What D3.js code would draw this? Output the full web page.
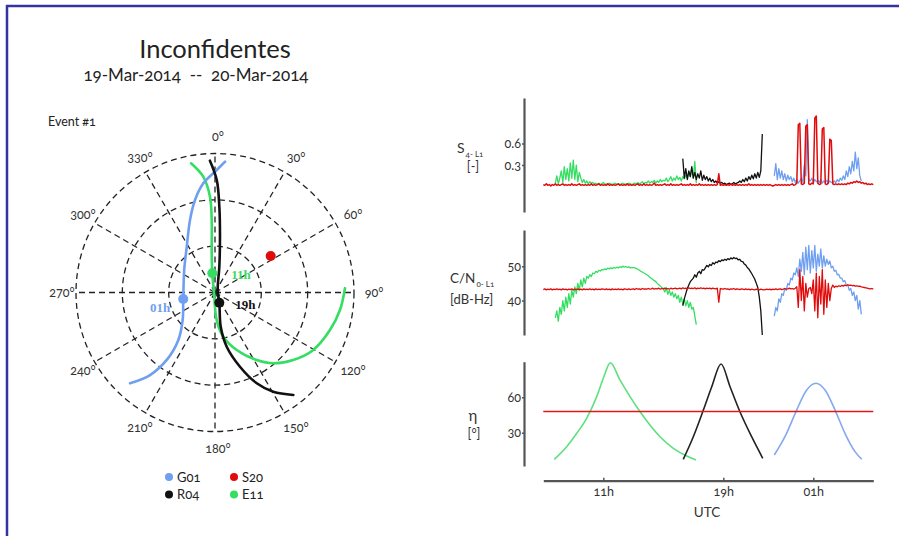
<!DOCTYPE html>
<html><head><meta charset="utf-8">
<script src="https://cdn.jsdelivr.net/npm/d3@7/dist/d3.min.js"></script>
<style>
html,body{margin:0;padding:0;background:#fff;}
svg{display:block;font-family:Lato,"Open Sans",sans-serif;font-variant-numeric:oldstyle-nums;font-feature-settings:"onum" 1;}
</style></head><body>
<svg id="c" width="899" height="536"></svg>
<script>
// ---------------- DATA ----------------
const titleText = "Inconfidentes";
const subtitleText = "19-Mar-2014  --  20-Mar-2014";
const eventText = "Event #1";

// polar plot
const spokeAngles = [0,30,60,90,120,150,180,210,240,270,300,330];
const ringElevations = [0,30,60];
// tracks: [azimuth deg, elevation deg]
const trackG01 = [[4.4,5.05],[0.8,10.7],[353.9,18.9],[347.8,28.7],[341,40.3],[328.3,55.2],[306.2,65.3],[258.4,69],[229.6,62.5],[217.7,51.2],[215.6,36.3],[218.2,22],[223.1,9.5]];
const trackR04 = [[357.8,4.6],[0.9,17.2],[2.9,34.4],[5.1,53.7],[9.5,73],[47,87.6],[157.1,82.8],[170.5,67.5],[167.8,54.1],[161.4,39.3],[155.3,25.3],[149.6,15.5],[142.6,6.5]];
const trackE11 = [[349.5,4.9],[354.2,14.6],[357,27.9],[357.4,43],[355.2,64.5],[352,77.4],[231,89.2],[176.5,72.1],[169.4,60.9],[159.3,50.2],[148.3,38.6],[140.5,30.6],[130.8,23.1],[120.3,16.3],[108.1,11.7],[98,8.3],[88.1,5.8]];
const markerG01 = [258.4,69], markerR04 = [157.1,82.8], markerE11 = [352,77.4], markerS20 = [56.8,46.9];
const markerLabels = ["01h","19h","11h"];
const legendNames = ["G01","S20","R04","E11"];

// time axis (hours UTC, 7 .. 29 = 05h next day)
const timeDomain = [7,29];
const timeTicks = [11,19,25];
const timeTickLabels = ["11h","19h","01h"];
const sampleStep = 0.1;

// S4 (sampled every 0.1 h from start time)
const s4GreenStart = 7.8;
const s4Green = [0.05,0.15,0.04,0.12,0.22,0.06,0.28,0.1,0.25,0.08,0.33,0.12,0.37,0.1,0.3,0.07,0.2,
 0.12,0.06,0.1,0.05,0.08,0.04,0.07,0.05,0.06,0.04,0.05,
 0.03,0.05,0.03,0.04,0.06,0.03,0.04,0.03,0.05,0.04,0.03,0.04,0.05,0.03,0.04,0.03,0.04,0.05,0.03,0.04,0.03,0.05,0.04,0.03,0.04,
 0.05,0.04,0.06,0.04,0.05,0.07,0.04,0.06,0.05,0.08,0.05,0.07,0.06,0.09,0.05,0.08,0.06,0.1,0.07,0.09,
 0.08,0.12,0.07,0.1,0.14,0.08,0.12,0.09,0.15,0.1,0.13,0.08,0.14,0.11,0.16,
 0.12,0.2,0.14,0.25,0.12,0.35,0.05];
const s4BlackStart = 16.3;
const s4Black = [0.39,0.12,0.25,0.1,0.22,0.14,0.28,0.12,
 0.2,0.1,0.18,0.12,0.22,0.09,0.16,0.1,0.14,
 0.08,0.12,0.07,0.1,0.06,0.08,0.05,0.07,0.05,0.06,0.04,
 0.05,0.03,0.04,0.05,0.03,0.04,0.06,0.04,0.05,0.06,
 0.08,0.06,0.1,0.07,0.12,0.08,0.14,0.1,0.16,0.11,0.18,0.12,0.2,0.13,0.22,
 0.73];
const s4BlueStart = 22.4;
const s4Blue = [0.15,0.32,0.1,0.25,0.12,0.22,0.1,
 0.18,0.08,0.16,0.1,0.14,0.07,0.12,0.06,
 0.1,0.05,0.08,0.12,0.06,0.3,0.15,
 0.93,0.1,0.08,0.12,0.06,0.1,0.07,0.09,
 0.06,0.1,0.05,0.08,0.06,0.09,0.05,0.08,0.06,
 0.05,0.08,0.06,0.1,0.07,0.12,0.09,
 0.15,0.1,0.22,0.14,0.28,0.18,0.35,
 0.22,0.48,0.25,0.4,0.15,0.08];
const s4RedStart = 7.0;
const s4Red = [0.03,0.02,0.04,0.02,0.03,0.01,0.03,0.02,0.04,0.02,
 0.03,0.02,0.03,0.04,0.02,0.03,0.02,0.03,0.02,0.04,
 0.02,0.03,0.02,0.03,0.04,0.02,0.03,0.02,0.03,0.02,
 0.03,0.02,0.04,0.02,0.03,0.02,0.03,0.04,0.02,0.03,
 0.02,0.03,0.02,0.04,0.02,0.03,0.02,0.03,0.02,0.03,
 0.04,0.02,0.03,0.02,0.03,0.02,0.04,0.02,0.03,0.02,
 0.03,0.02,0.03,0.04,0.02,0.03,0.02,0.04,0.02,0.03,
 0.02,0.03,0.02,0.03,0.05,0.02,0.03,0.02,0.03,0.02,
 0.03,0.04,0.02,0.03,0.02,0.04,0.02,0.03,0.02,0.03,
 0.02,0.03,0.04,0.02,0.03,0.02,0.03,0.02,0.04,0.02,
 0.03,0.02,0.03,0.02,0.04,0.02,0.03,0.02,0.03,0.02,
 0.03,0.02,0.03,0.02,0.03,0.02,0.03,0.18,0.02,0.03,
 0.02,0.03,0.02,0.03,0.02,0.04,0.02,0.03,0.02,0.03,
 0.02,0.03,0.02,0.03,0.02,0.03,0.02,0.04,0.02,0.03,
 0.02,0.03,0.02,0.03,0.02,0.03,0.02,0.03,0.02,0.03,
 0.02,0.03,0.02,0.01,0.02,0.03,0.02,0.03,0.02,0.03,
 0.02,0.03,0.02,0.03,0.02,0.03,0.04,0.02,0.03,0.05,
 0.86,0.88,0.04,0.03,0.05,0.84,0.86,0.04,0.03,0.05,
 0.04,0.95,0.98,0.05,0.03,0.04,0.8,0.82,0.04,0.03,
 0.05,0.66,0.64,0.04,0.03,0.04,0.03,0.04,0.03,0.04,
 0.03,0.04,0.03,0.05,0.04,0.06,0.05,0.07,0.06,0.08,
 0.06,0.07,0.05,0.06,0.04,0.05,0.03,0.04,0.03,0.04,
 0.03];

// C/N0 (dB-Hz), sampled every 0.1 h
const cnGreenStart = 7.8;
const cnGreen = [35,37,34,38,36,40,37,41,38,42,39,43,
 41,44,42,45,43,46,44,46.5,45,47,
 46.5,47.5,47,48,47.8,48.5,48.2,48.8,48.6,49,
 48.9,49.2,49,49.4,49.2,49.5,49.3,49.6,49.4,49.7,
 49.5,49.8,49.6,50,49.7,49.9,49.6,49.8,49.5,49.6,
 49.6,49.5,49.3,49.1,48.8,48.5,48.3,48,47.8,47.5,
 47.2,46.8,46.5,46.1,45.8,45.5,45,44.6,44.2,43.8,
 43.5,42.5,43.8,41.8,43,41.5,42.5,41,42,40.5,
 41.5,39.5,41,39,40.5,38.5,40,38,39.5,37.5,
 38,35.5,33];
const cnBlackStart = 16.3;
const cnBlack = [38.5,40.5,42,43.5,44.5,45.5,46,
 46.5,47.5,46.8,48,48.5,47.8,49,48.8,49.5,50.2,
 49.8,50.5,50.2,51,50.6,51.2,51,51.6,51.3,51.8,
 51.6,52,51.7,52.2,51.9,52.4,52.1,52.5,52.2,52.3,
 51.8,52,51.4,51.3,50.6,50.3,49.6,49.2,48.5,47.8,
 47,46.2,45,43.8,41,37,30];
const cnBlueStart = 22.4;
const cnBlue = [35.5,38,37,40.5,39.5,42,
 41.5,43.5,43,45,44.5,46.5,46,48,47.5,49.5,
 47,52,48.5,54,47.5,55.5,49,56,48,54.5,
 49.5,56,48.5,53.5,50,55,49.5,53,50,52,
 50.5,51.5,49.5,50,48.5,48.8,47.5,47.6,46.5,46.5,
 45.5,45.8,44.5,44.5,43,43.5,41.5,42.5,40,41.5,
 37.5,40,36];
const cnRedStart = 7.0;
const cnRed = [43.2,43.4,43.1,43.3,43.2,43.4,43.1,43.3,43.2,43.4,
 43.2,43.3,43.1,43.4,43.2,43.3,43.1,43.3,43.2,43.4,
 43.1,43.3,43.2,43.4,43.2,43.3,43.1,43.4,43.2,43.3,
 43.2,43.4,43.2,43.3,43.1,43.4,43.2,43.3,43.2,43.4,
 43.3,43.2,43.4,43.2,43.3,43.1,43.4,43.2,43.3,43.2,
 43.4,43.2,43.3,43.1,43.4,43.3,43.2,43.4,43.2,43.3,
 43.4,43.2,43.5,43.3,43.4,43.2,43.5,43.3,43.4,43.3,
 43.5,43.3,43.4,43.6,43.3,43.5,43.4,43.6,43.3,43.5,
 43.4,43.6,43.4,43.5,43.3,43.6,43.4,43.5,43.6,43.4,
 43.5,43.6,43.4,43.7,43.5,43.6,43.4,43.7,43.5,43.6,
 43.5,43.7,43.4,43.6,43.5,43.7,43.5,43.6,43.4,43.6,
 43.5,43.6,43.4,43.6,43.5,43.4,43.6,39.5,43.5,43.4,
 43.3,43.5,43.3,43.4,43.2,43.4,43.3,43.5,43.2,43.4,
 43.3,43.2,43.4,43.3,43.2,43.4,43.2,43.3,43.1,43.3,
 43.2,43.1,43.3,43.2,43.1,43.3,43.2,43.1,43.2,43.3,
 43.2,43.3,43.1,43.3,43.2,43.4,43.2,43.3,43.4,43.2,
 43.3,43.5,43.3,43.4,43.6,43.4,43.5,43.3,43.6,44,
 38,49,40,47,37,45,41,43.5,43.8,42,
 46,37,48,35,47,39,49,36,46,38,
 45,40,43.5,44.5,43.8,44.2,44,44.3,44.1,44.4,
 44.2,44.5,44.3,44.6,44.4,44.5,44.3,44.4,44.2,44.3,
 44.1,44.2,44,43.9,43.8,43.7,43.6,43.5,43.4,43.5,
 43.3];

// elevation eta (deg): [time h, elevation]
const etaGreen = [[7.73,7.6],[8.56,18.3],[9.23,29.6],[9.89,42.2],[10.56,60.5],[11.0,76],[11.47,89],[12.11,74.6],[12.78,60.5],[13.45,47.8],[14.11,36.6],[14.78,26.7],[15.67,16.9],[16.56,10.4],[17.18,7.1]];
const etaBlack = [[16.33,7.6],[17.0,26.7],[17.67,49.2],[18.23,68.9],[18.85,88],[19.45,68.9],[20.11,47.8],[20.89,26.7],[21.63,8.5]];
const etaBlue = [[22.4,11.3],[23.22,29.6],[23.89,49.2],[24.56,66.1],[25.18,71.8],[25.78,66.1],[26.45,49.2],[27.11,29.6],[27.78,14.1],[28.23,7.65]];
const etaRed = [[7,48],[29,48]];

const s4Ticks = [0.3,0.6];
const cnTicks = [40,50];
const etaTicks = [30,60];

// ---------------- DRAWING ----------------
const COL = {G01:"#6f9ff0", S20:"#e00b0b", R04:"#111111", E11:"#35dd62"};
const svg = d3.select("#c");
const sampled = (start, vals) => vals.map((v,i)=>[start + i*sampleStep, v]);

// frame
svg.append("line").attr("x1",6).attr("x2",899).attr("y1",6).attr("y2",6).attr("stroke","#3434a0").attr("stroke-width",2.5);
svg.append("line").attr("x1",7).attr("x2",7).attr("y1",5).attr("y2",536).attr("stroke","#3434a0").attr("stroke-width",2.5);

// titles
svg.append("text").attr("x",215).attr("y",58).attr("text-anchor","middle").attr("font-size",25.5).attr("fill","#222").text(titleText);
svg.append("text").attr("x",196).attr("y",81).attr("text-anchor","middle").attr("font-size",17).attr("fill","#222").style("white-space","pre").text(subtitleText);
svg.append("text").attr("x",48).attr("y",126).attr("font-size",12.5).attr("fill","#222").text(eventText);

// polar
const cx=215, cy=292.5, R=139;
const rScale = d3.scaleLinear().domain([90,0]).range([0,R]);
const proj = ([az,el]) => { const a=az*Math.PI/180, r=rScale(el); return [cx + r*Math.sin(a), cy - r*Math.cos(a)]; };
const pg = svg.append("g");
pg.selectAll("circle.ring").data(ringElevations).join("circle").attr("class","ring")
  .attr("cx",cx).attr("cy",cy).attr("r",d=>rScale(d))
  .attr("fill","none").attr("stroke","#222").attr("stroke-width",1.3).attr("stroke-dasharray","6,4");
pg.selectAll("line.spoke").data(spokeAngles).join("line").attr("class","spoke")
  .attr("x1",cx).attr("y1",cy)
  .attr("x2",d=>proj([d,0])[0]).attr("y2",d=>proj([d,0])[1])
  .attr("stroke","#222").attr("stroke-width",1.3).attr("stroke-dasharray","6,4");
const labR = 156;
pg.selectAll("text.ang").data(spokeAngles).join("text").attr("class","ang")
  .attr("x",d=>cx+labR*Math.sin(d*Math.PI/180)+3)
  .attr("y",d=>cy-labR*Math.cos(d*Math.PI/180))
  .attr("text-anchor","middle").attr("dominant-baseline","central")
  .attr("font-size",12.5).attr("fill","#333").text(d=>d+"°");

const curve = d3.line().curve(d3.curveCatmullRom.alpha(0.5));
[[trackE11,COL.E11],[trackG01,COL.G01],[trackR04,COL.R04]].forEach(([pts,c])=>{
  pg.append("path").attr("d",curve(pts.map(proj))).attr("fill","none").attr("stroke",c).attr("stroke-width",2.6).attr("stroke-linecap","round");
});
const markers = [[markerG01,COL.G01],[markerR04,COL.R04],[markerE11,COL.E11],[markerS20,COL.S20]];
pg.selectAll("circle.mk").data(markers).join("circle").attr("class","mk")
  .attr("cx",d=>proj(d[0])[0]).attr("cy",d=>proj(d[0])[1]).attr("r",5).attr("fill",d=>d[1]);
const labOff = [[-13,13,"end",COL.G01],[16,6,"start",COL.R04],[19,6,"start",COL.E11]];
[markerG01,markerR04,markerE11].forEach((m,i)=>{
  const p = proj(m);
  pg.append("text").attr("x",p[0]+labOff[i][0]).attr("y",p[1]+labOff[i][1])
    .attr("text-anchor",labOff[i][2]).attr("font-family","'Liberation Serif',serif").attr("font-weight","bold")
    .attr("font-size",13).attr("fill",labOff[i][3]).style("font-variant-numeric","normal").text(markerLabels[i]);
});

// legend
const legPos = [[169,477],[234,477],[169,494.5],[234,494.5]];
legendNames.forEach((n,i)=>{
  svg.append("circle").attr("cx",legPos[i][0]).attr("cy",legPos[i][1]).attr("r",4).attr("fill",COL[n]);
  svg.append("text").attr("x",legPos[i][0]+8).attr("y",legPos[i][1]+4.5).attr("font-size",13).attr("fill","#222").text(n);
});

// right panels
const x = d3.scaleLinear().domain(timeDomain).range([543.3,873.3]);
const yS4 = d3.scaleLinear().domain([-0.35,1.23]).range([212,98]);
const yCN = d3.scaleLinear().domain([30,60.5]).range([335,230]);
const yEta = d3.scaleLinear().domain([2,90]).range([466,361.7]);

function yAxis(scale, ticks, fmt){
  const g = svg.append("g").attr("transform","translate(524,0)")
    .call(d3.axisLeft(scale).tickValues(ticks).tickFormat(fmt).tickSizeInner(2).tickSizeOuter(0).tickPadding(1));
  g.select(".domain").attr("stroke","#555").attr("stroke-width",2.2);
  g.selectAll(".tick line").attr("stroke","#555").attr("stroke-width",1.5);
  g.selectAll(".tick text").attr("font-size",12.5).attr("fill","#333");
  g.attr("font-family",null);
}
yAxis(yS4, s4Ticks, d3.format(".1f"));
yAxis(yCN, cnTicks, d3.format("d"));
yAxis(yEta, etaTicks, d3.format("d"));

const xg = svg.append("g").attr("transform","translate(0,480.7)")
  .call(d3.axisBottom(x).tickValues(timeTicks).tickFormat((d,i)=>timeTickLabels[i]).tickSizeInner(-3).tickSizeOuter(0));
xg.attr("font-family",null);
xg.select(".domain").attr("stroke","#555").attr("stroke-width",2.2);
xg.selectAll(".tick line").attr("stroke","#555").attr("stroke-width",1.5);
xg.selectAll(".tick text").attr("y",15.5).attr("dy",null).attr("font-size",12.5).attr("fill","#333");
svg.append("text").attr("x",707).attr("y",517).attr("text-anchor","middle").attr("font-size",13.5).attr("fill","#333").text("UTC");

// axis labels
const s4Lab = svg.append("text").attr("x",457).attr("y",153).attr("font-size",14).attr("fill","#333");
s4Lab.append("tspan").text("S");
s4Lab.append("tspan").attr("dy",4).attr("dx",1).attr("font-size",8).text("4- L1");
svg.append("text").attr("x",473).attr("y",171).attr("text-anchor","middle").attr("font-size",12.5).attr("fill","#333").text("[-]");
const cnLab = svg.append("text").attr("x",450).attr("y",283).attr("font-size",13.5).attr("fill","#333");
cnLab.append("tspan").text("C/N");
cnLab.append("tspan").attr("dy",4).attr("dx",1).attr("font-size",8).text("0- L1");
svg.append("text").attr("x",450).attr("y",304).attr("font-size",13).attr("fill","#333").text("[dB-Hz]");
svg.append("text").attr("x",473).attr("y",421).attr("text-anchor","middle").attr("font-size",15).attr("fill","#333").text("η");
svg.append("text").attr("x",474).attr("y",438).attr("text-anchor","middle").attr("font-size",12.5).attr("fill","#333").text("[°]");

// data lines
const lineS4 = d3.line().x(d=>x(d[0])).y(d=>yS4(d[1]));
const lineCN = d3.line().x(d=>x(d[0])).y(d=>yCN(d[1]));
const lineEta = d3.line().x(d=>x(d[0])).y(d=>yEta(d[1])).curve(d3.curveMonotoneX);
function draw(gen, data, c, w){
  svg.append("path").attr("d",gen(data)).attr("fill","none").attr("stroke",c).attr("stroke-width",w).attr("stroke-linejoin","round");
}
draw(lineS4, sampled(s4GreenStart,s4Green), COL.E11, 1.3);
draw(lineS4, sampled(s4BlackStart,s4Black), COL.R04, 1.3);
draw(lineS4, sampled(s4BlueStart,s4Blue), COL.G01, 1.3);
draw(lineS4, sampled(s4RedStart,s4Red), COL.S20, 1.5);

draw(lineCN, sampled(cnGreenStart,cnGreen), COL.E11, 1.3);
draw(lineCN, sampled(cnBlackStart,cnBlack), COL.R04, 1.3);
draw(lineCN, sampled(cnBlueStart,cnBlue), COL.G01, 1.3);
draw(lineCN, sampled(cnRedStart,cnRed), COL.S20, 1.3);

draw(lineEta, etaGreen, "#5fe07f", 1.6);
draw(lineEta, etaBlack, "#222", 1.6);
draw(lineEta, etaBlue, "#85a8f0", 1.6);
draw(lineEta, etaRed, "#e81515", 1.3);
</script>
</body></html>
